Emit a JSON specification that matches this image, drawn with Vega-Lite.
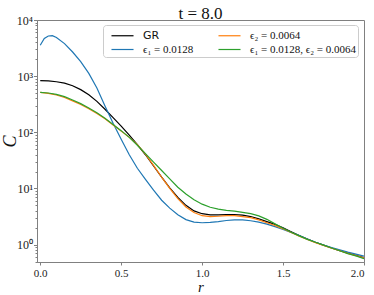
{
  "$schema": "https://vega.github.io/schema/vega-lite/v6.json",
  "width": 327,
  "height": 242,
  "autosize": {"type": "none"},
  "padding": {"left": 37, "top": 20, "right": 10, "bottom": 33},
  "title": {"text": "t = 8.0", "font": "Liberation Serif", "fontSize": 17, "fontWeight": "normal", "color": "#111", "offset": 3, "dy": 12, "anchor": "middle"},
  "config": {
    "view": {"stroke": "#808080", "strokeWidth": 1},
    "axis": {"domainColor": "#808080", "tickColor": "#808080", "labelFont": "Liberation Serif", "labelFontSize": 11, "labelColor": "#222", "titleFont": "Liberation Serif", "titleColor": "#111", "titleFontWeight": "normal", "grid": false}
  },
  "data": {"values": [
    {"s":"GR","r":0,"C":832},{"s":"GR","r":0.05,"C":822},{"s":"GR","r":0.1,"C":794},{"s":"GR","r":0.15,"C":750},{"s":"GR","r":0.2,"C":676},{"s":"GR","r":0.25,"C":575},{"s":"GR","r":0.3,"C":468},{"s":"GR","r":0.35,"C":355},{"s":"GR","r":0.4,"C":257},{"s":"GR","r":0.45,"C":182},{"s":"GR","r":0.5,"C":129},{"s":"GR","r":0.55,"C":89.1},{"s":"GR","r":0.6,"C":60.3},{"s":"GR","r":0.65,"C":39.8},{"s":"GR","r":0.7,"C":25.1},{"s":"GR","r":0.75,"C":15.85},{"s":"GR","r":0.8,"C":10.23},{"s":"GR","r":0.85,"C":6.92},{"s":"GR","r":0.9,"C":5.01},{"s":"GR","r":0.95,"C":3.98},{"s":"GR","r":1.0,"C":3.55},{"s":"GR","r":1.05,"C":3.39},{"s":"GR","r":1.1,"C":3.39},{"s":"GR","r":1.15,"C":3.43},{"s":"GR","r":1.2,"C":3.43},{"s":"GR","r":1.25,"C":3.35},{"s":"GR","r":1.3,"C":3.16},{"s":"GR","r":1.35,"C":2.88},{"s":"GR","r":1.4,"C":2.57},{"s":"GR","r":1.45,"C":2.29},{"s":"GR","r":1.5,"C":2.0},{"s":"GR","r":1.55,"C":1.7},{"s":"GR","r":1.6,"C":1.45},{"s":"GR","r":1.65,"C":1.26},{"s":"GR","r":1.7,"C":1.1},{"s":"GR","r":1.75,"C":0.977},{"s":"GR","r":1.8,"C":0.871},{"s":"GR","r":1.85,"C":0.776},{"s":"GR","r":1.9,"C":0.708},{"s":"GR","r":1.95,"C":0.646},{"s":"GR","r":2.0,"C":0.589},
    {"s":"e1","r":0,"C":3548},{"s":"e1","r":0.025,"C":4677},{"s":"e1","r":0.05,"C":5188},{"s":"e1","r":0.075,"C":5248},{"s":"e1","r":0.1,"C":4898},{"s":"e1","r":0.15,"C":3802},{"s":"e1","r":0.2,"C":2692},{"s":"e1","r":0.25,"C":1820},{"s":"e1","r":0.3,"C":1122},{"s":"e1","r":0.35,"C":617},{"s":"e1","r":0.4,"C":295},{"s":"e1","r":0.45,"C":145},{"s":"e1","r":0.5,"C":75.0},{"s":"e1","r":0.55,"C":39.8},{"s":"e1","r":0.6,"C":22.9},{"s":"e1","r":0.65,"C":14.5},{"s":"e1","r":0.7,"C":9.33},{"s":"e1","r":0.75,"C":6.17},{"s":"e1","r":0.8,"C":4.47},{"s":"e1","r":0.85,"C":3.39},{"s":"e1","r":0.9,"C":2.79},{"s":"e1","r":0.95,"C":2.51},{"s":"e1","r":1.0,"C":2.45},{"s":"e1","r":1.05,"C":2.48},{"s":"e1","r":1.1,"C":2.57},{"s":"e1","r":1.15,"C":2.69},{"s":"e1","r":1.2,"C":2.75},{"s":"e1","r":1.25,"C":2.75},{"s":"e1","r":1.3,"C":2.66},{"s":"e1","r":1.35,"C":2.51},{"s":"e1","r":1.4,"C":2.32},{"s":"e1","r":1.45,"C":2.09},{"s":"e1","r":1.5,"C":1.86},{"s":"e1","r":1.55,"C":1.64},{"s":"e1","r":1.6,"C":1.45},{"s":"e1","r":1.65,"C":1.26},{"s":"e1","r":1.7,"C":1.1},{"s":"e1","r":1.75,"C":0.977},{"s":"e1","r":1.8,"C":0.881},{"s":"e1","r":1.85,"C":0.804},{"s":"e1","r":1.9,"C":0.733},{"s":"e1","r":1.95,"C":0.676},{"s":"e1","r":2.0,"C":0.624},
    {"s":"e2","r":0,"C":513},{"s":"e2","r":0.05,"C":495},{"s":"e2","r":0.1,"C":462},{"s":"e2","r":0.15,"C":417},{"s":"e2","r":0.2,"C":363},{"s":"e2","r":0.25,"C":313},{"s":"e2","r":0.3,"C":263},{"s":"e2","r":0.35,"C":216},{"s":"e2","r":0.4,"C":174},{"s":"e2","r":0.45,"C":135},{"s":"e2","r":0.5,"C":105},{"s":"e2","r":0.55,"C":81.3},{"s":"e2","r":0.6,"C":60.3},{"s":"e2","r":0.65,"C":40.7},{"s":"e2","r":0.7,"C":25.7},{"s":"e2","r":0.75,"C":15.85},{"s":"e2","r":0.8,"C":10.0},{"s":"e2","r":0.85,"C":6.61},{"s":"e2","r":0.9,"C":4.68},{"s":"e2","r":0.95,"C":3.72},{"s":"e2","r":1.0,"C":3.27},{"s":"e2","r":1.05,"C":3.16},{"s":"e2","r":1.1,"C":3.2},{"s":"e2","r":1.15,"C":3.27},{"s":"e2","r":1.2,"C":3.27},{"s":"e2","r":1.25,"C":3.16},{"s":"e2","r":1.3,"C":3.02},{"s":"e2","r":1.35,"C":2.75},{"s":"e2","r":1.4,"C":2.45},{"s":"e2","r":1.45,"C":2.19},{"s":"e2","r":1.5,"C":1.91},{"s":"e2","r":1.55,"C":1.64},{"s":"e2","r":1.6,"C":1.41},{"s":"e2","r":1.65,"C":1.23},{"s":"e2","r":1.7,"C":1.08},{"s":"e2","r":1.75,"C":0.966},{"s":"e2","r":1.8,"C":0.861},{"s":"e2","r":1.85,"C":0.776},{"s":"e2","r":1.9,"C":0.7},{"s":"e2","r":1.95,"C":0.638},{"s":"e2","r":2.0,"C":0.582},
    {"s":"e12","r":0,"C":513},{"s":"e12","r":0.05,"C":501},{"s":"e12","r":0.1,"C":473},{"s":"e12","r":0.15,"C":432},{"s":"e12","r":0.2,"C":376},{"s":"e12","r":0.25,"C":324},{"s":"e12","r":0.3,"C":272},{"s":"e12","r":0.35,"C":224},{"s":"e12","r":0.4,"C":178},{"s":"e12","r":0.45,"C":138},{"s":"e12","r":0.5,"C":107},{"s":"e12","r":0.55,"C":81.3},{"s":"e12","r":0.6,"C":58.9},{"s":"e12","r":0.65,"C":41.7},{"s":"e12","r":0.7,"C":29.5},{"s":"e12","r":0.75,"C":20.9},{"s":"e12","r":0.8,"C":14.8},{"s":"e12","r":0.85,"C":10.5},{"s":"e12","r":0.9,"C":7.94},{"s":"e12","r":0.95,"C":6.31},{"s":"e12","r":1.0,"C":5.25},{"s":"e12","r":1.05,"C":4.62},{"s":"e12","r":1.1,"C":4.27},{"s":"e12","r":1.15,"C":4.07},{"s":"e12","r":1.2,"C":3.94},{"s":"e12","r":1.25,"C":3.76},{"s":"e12","r":1.3,"C":3.55},{"s":"e12","r":1.35,"C":3.24},{"s":"e12","r":1.4,"C":2.82},{"s":"e12","r":1.45,"C":2.34},{"s":"e12","r":1.5,"C":1.95},{"s":"e12","r":1.55,"C":1.66},{"s":"e12","r":1.6,"C":1.43},{"s":"e12","r":1.65,"C":1.24},{"s":"e12","r":1.7,"C":1.1},{"s":"e12","r":1.75,"C":0.977},{"s":"e12","r":1.8,"C":0.871},{"s":"e12","r":1.85,"C":0.776},{"s":"e12","r":1.9,"C":0.692},{"s":"e12","r":1.95,"C":0.631},{"s":"e12","r":2.0,"C":0.562}
  ]},
  "mark": {"type": "line", "strokeWidth": 1.2, "clip": true},
  "encoding": {
    "x": {"field": "r", "type": "quantitative",
      "scale": {"domain": [-0.02, 2.0], "nice": false, "zero": false},
      "axis": {"values": [0, 0.5, 1, 1.5, 2], "format": ".1f", "tickSize": 3, "labelPadding": 2, "title": "r", "titleFontStyle": "italic", "titleFontSize": 15, "titlePadding": 1}},
    "y": {"field": "C", "type": "quantitative",
      "scale": {"type": "log", "domain": [0.49, 10000], "nice": false},
      "axis": {"values": [0.5,0.6,0.7,0.8,0.9,1,2,3,4,5,6,7,8,9,10,20,30,40,50,60,70,80,90,100,200,300,400,500,600,700,800,900,1000,2000,3000,4000,5000,6000,7000,8000,9000,10000],
        "labelExpr": "datum.value == 1 ? '10⁰' : datum.value == 10 ? '10¹' : datum.value == 100 ? '10²' : datum.value == 1000 ? '10³' : datum.value == 10000 ? '10⁴' : ''",
        "tickSize": {"condition": {"test": "indexof([1,10,100,1000,10000], datum.value) >= 0", "value": 3.5}, "value": 2},
        "labelPadding": 1, "labelFontSize": 12,
        "title": "C", "titleFontStyle": "italic", "titleFontSize": 18, "titlePadding": -3}},
    "color": {"field": "s", "type": "nominal",
      "scale": {"domain": ["GR", "e1", "e2", "e12"], "range": ["#000000", "#1f77b4", "#ff7f0e", "#2ca02c"]},
      "legend": {"title": null, "orient": "none", "legendX": 66, "legendY": 5, "columns": 2, "columnPadding": 18, "rowPadding": 0,
        "symbolType": "M-0.27,0H2.67", "symbolSize": 225, "symbolStrokeWidth": 1.2, "labelOffset": 21,
        "labelFont": "Liberation Serif", "labelFontSize": 11, "labelColor": "#111",
        "labelExpr": "datum.value == 'GR' ? 'GR' : datum.value == 'e1' ? 'ϵ₁ = 0.0128' : datum.value == 'e2' ? 'ϵ₂ = 0.0064' : 'ϵ₁ = 0.0128, ϵ₂ = 0.0064'",
        "fillColor": "white", "strokeColor": "#cccccc", "cornerRadius": 3, "padding": 2,
        "encode": {"labels": {"update": {"font": {"signal": "datum.value == 'GR' ? 'DejaVu Sans' : 'Liberation Serif'"}}}}}
    }
  }
}
